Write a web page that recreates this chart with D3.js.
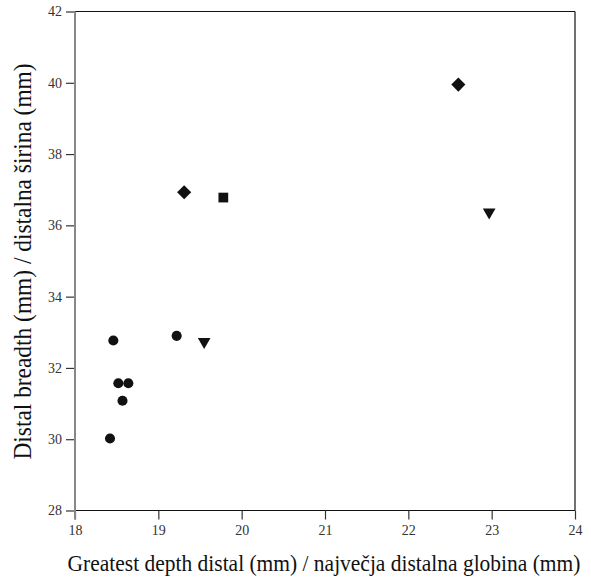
<!DOCTYPE html>
<html><head><meta charset="utf-8">
<script src="https://cdn.jsdelivr.net/npm/d3@7"></script>
<style>body{margin:0;background:#fff}</style>
</head><body>
<script>
const xTicks = [18,19,20,21,22,23,24];
const yTicks = [28,30,32,34,36,38,40,42];
const circleX = [18.46,19.22,18.52,18.64,18.57,18.42];
const circleY = [32.77,32.90,31.57,31.57,31.08,30.02];
const triangleX = [19.55,22.97];
const triangleY = [32.74,36.37];
const diamondX = [19.31,22.60];
const diamondY = [36.93,39.95];
const squareX = [19.78];
const squareY = [36.78];
const xTitle = "Greatest depth distal (mm) / največja distalna globina (mm)";
const yTitle = "Distal breadth (mm) / distalna širina (mm)";

const W=591,H=578;
const m={l:75,r:16,t:11.5,b:67.5};
const svg=d3.select("body").append("svg").attr("width",W).attr("height",H);
const x=d3.scaleLinear().domain([18,24]).range([m.l,W-m.r]);
const y=d3.scaleLinear().domain([28,42]).range([H-m.b,m.t]);
const font="'Liberation Serif', 'Times New Roman', serif";

// frame top and right
svg.append("line").attr("x1",x(18)).attr("x2",x(24)).attr("y1",y(42)).attr("y2",y(42)).attr("stroke","#111").attr("stroke-width",1.2);
svg.append("line").attr("x1",x(24)).attr("x2",x(24)).attr("y1",y(42)).attr("y2",y(28)).attr("stroke","#111").attr("stroke-width",1.2);

const xa=svg.append("g").attr("transform",`translate(0,${y(28)})`)
  .call(d3.axisBottom(x).tickValues(xTicks).tickSize(9).tickPadding(6).tickFormat(d3.format("d")));
const ya=svg.append("g").attr("transform",`translate(${x(18)},0)`)
  .call(d3.axisLeft(y).tickValues(yTicks).tickSize(9).tickPadding(4).tickFormat(d3.format("d")));
[xa,ya].forEach(a=>{
  a.selectAll("text").attr("font-family",font).attr("font-size",14).attr("fill","#333");
  a.selectAll(".tick line").attr("stroke","#333").attr("stroke-width",1.2);
});
xa.select(".domain").attr("stroke","#111").attr("stroke-width",1.2).attr("d",`M${x(18)},0H${x(24)}`);
ya.select(".domain").remove();
ya.append("line").attr("x1",0).attr("x2",0).attr("y1",y(42)).attr("y2",y(28)+9).attr("stroke","#888").attr("stroke-width",2);

const g=svg.append("g").attr("fill","#111");
const sym=(type,size,xs,ys,rot)=>{
  g.selectAll(null).data(d3.range(xs.length)).join("path")
   .attr("d",d3.symbol().type(type).size(size))
   .attr("transform",i=>`translate(${x(xs[i])},${y(ys[i])}) rotate(${rot||0})`);
};
sym(d3.symbolCircle,80,circleX,circleY);
sym(d3.symbolTriangle,70,triangleX,triangleY,180);
sym(d3.symbolSquare,100,diamondX,diamondY,45);
sym(d3.symbolSquare,95,squareX,squareY);

svg.append("text").attr("transform",`translate(${(x(18)+x(24))/2-1},571) scale(0.895,1)`).attr("text-anchor","middle")
  .attr("font-family",font).attr("font-size",24).attr("fill","#111").text(xTitle);
svg.append("text").attr("transform",`translate(31,261.5) rotate(-90) scale(0.9,1)`).attr("text-anchor","middle")
  .attr("font-family",font).attr("font-size",26).attr("fill","#111").text(yTitle);
</script>
</body></html>
